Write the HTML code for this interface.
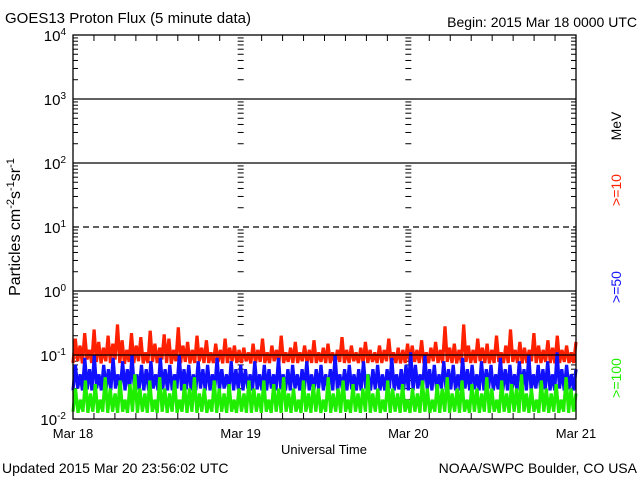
<!DOCTYPE html>
<html><head><meta charset="utf-8"><style>
html,body{margin:0;padding:0;background:#fff;}
svg text{font-family:"Liberation Sans",sans-serif;}
</style></head><body>
<svg id="chart" width="640" height="480" viewBox="0 0 640 480" xmlns="http://www.w3.org/2000/svg">
<rect width="640" height="480" fill="#fff"/>
<text x="5" y="23" font-size="15">GOES13 Proton Flux (5 minute data)</text>
<text x="637" y="27" font-size="14" text-anchor="end">Begin: 2015 Mar 18 0000 UTC</text>
<text transform="translate(20,227) rotate(-90)" font-size="16" text-anchor="middle">Particles cm<tspan dy="-6" font-size="11">-2</tspan><tspan dy="6">s</tspan><tspan dy="-6" font-size="11">-1</tspan><tspan dy="6">sr</tspan><tspan dy="-6" font-size="11">-1</tspan></text>
<text transform="translate(621,126) rotate(-90)" font-size="14" text-anchor="middle">MeV</text>
<text transform="translate(621,190) rotate(-90)" font-size="14" text-anchor="middle" fill="#ff2000">&gt;=10</text>
<text transform="translate(621,287) rotate(-90)" font-size="14" text-anchor="middle" fill="#1010ff">&gt;=50</text>
<text transform="translate(621,378) rotate(-90)" font-size="14" text-anchor="middle" fill="#20ee00">&gt;=100</text>
<text x="324" y="454" font-size="13" text-anchor="middle">Universal Time</text>
<text x="2" y="473" font-size="14">Updated 2015 Mar 20 23:56:02 UTC</text>
<text x="637" y="473" font-size="14" text-anchor="end">NOAA/SWPC Boulder, CO USA</text>
<g id="under"></g>
<g id="data"></g>
<g id="axes"></g>
</svg>
<script>
const dayLabels = ["Mar 18","Mar 19","Mar 20","Mar 21"];
const yTickExps = [-2,-1,0,1,2,3,4];
const gridSolid = [3,2,0,-1];
const gridDashed = [1];
const ge10 = [.075,.18,.08,.14,.074,.22,.085,.12,.075,.25,.078,.16,.074,.13,.08,.2,.075,.15,.085,.3,.075,.17,.073,.12,.078,.22,.075,.14,.08,.19,.074,.11,.075,.24,.078,.15,.075,.13,.085,.21,.075,.18,.073,.12,.08,.27,.075,.14,.078,.16,.074,.12,.075,.2,.08,.13,.075,.17,.075,.11,.075,.15,.078,.12,.074,.18,.075,.13,.08,.14,.075,.12,
.075,.13,.08,.11,.074,.15,.075,.12,.078,.18,.075,.11,.075,.14,.08,.12,.074,.2,.075,.11,.078,.13,.075,.16,.075,.11,.08,.14,.074,.12,.075,.17,.075,.11,.078,.13,.075,.15,.075,.11,.073,.12,.078,.19,.075,.12,.075,.14,.08,.11,.075,.13,.074,.16,.075,.12,.078,.11,.075,.14,.075,.12,.08,.18,.075,.11,.075,.13,.074,.12,.075,.15,
.075,.14,.078,.12,.075,.17,.074,.11,.075,.13,.08,.16,.075,.12,.075,.28,.078,.13,.075,.15,.074,.12,.075,.3,.078,.14,.075,.12,.075,.18,.08,.13,.075,.15,.074,.12,.075,.2,.078,.11,.075,.14,.075,.25,.078,.12,.075,.16,.074,.13,.075,.12,.08,.22,.075,.14,.075,.12,.078,.17,.075,.13,.074,.2,.075,.12,.078,.14,.075,.11,.075,.16];
const ge50 = [.028,.07,.03,.05,.028,.09,.029,.06,.028,.1,.03,.05,.028,.07,.029,.06,.028,.09,.03,.05,.028,.08,.028,.06,.03,.1,.028,.05,.029,.07,.028,.06,.028,.08,.03,.05,.028,.09,.029,.06,.028,.07,.028,.05,.03,.1,.028,.06,.029,.07,.028,.05,.028,.08,.03,.06,.028,.07,.028,.05,.029,.09,.028,.06,.03,.05,.028,.08,.028,.06,.029,.07,
.028,.06,.03,.05,.028,.08,.029,.05,.028,.07,.028,.06,.03,.05,.028,.09,.029,.05,.028,.06,.028,.07,.03,.05,.028,.06,.029,.08,.028,.05,.028,.06,.03,.07,.028,.05,.029,.06,.028,.1,.028,.05,.03,.06,.028,.07,.029,.05,.028,.06,.028,.08,.03,.05,.028,.06,.029,.07,.028,.05,.028,.06,.03,.09,.028,.05,.029,.06,.028,.07,.028,.11,
.028,.07,.03,.05,.028,.1,.029,.06,.028,.07,.028,.05,.03,.08,.028,.06,.029,.07,.028,.05,.028,.09,.03,.06,.028,.07,.029,.05,.028,.08,.028,.06,.03,.07,.028,.05,.029,.09,.028,.06,.028,.07,.03,.05,.028,.08,.029,.06,.028,.1,.028,.05,.03,.07,.028,.06,.029,.08,.028,.05,.028,.11,.03,.06,.028,.07,.029,.05,.028,.06];
const ge100 = [.013,.03,.0125,.02,.013,.04,.0125,.025,.013,.035,.0125,.02,.013,.045,.0125,.03,.013,.025,.0125,.04,.013,.02,.0125,.035,.013,.05,.0125,.03,.013,.025,.0125,.04,.013,.02,.0125,.045,.013,.03,.0125,.025,.013,.04,.0125,.02,.013,.035,.0125,.03,.013,.045,.0125,.025,.013,.03,.0125,.02,.013,.04,.0125,.03,.013,.025,.0125,.035,.013,.02,.0125,.03,.013,.025,.0125,.04,
.0125,.03,.013,.025,.0125,.04,.013,.02,.0125,.035,.013,.03,.0125,.045,.013,.025,.0125,.03,.013,.02,.0125,.04,.013,.025,.0125,.035,.013,.03,.0125,.02,.013,.045,.0125,.025,.013,.03,.0125,.04,.013,.02,.0125,.035,.013,.025,.0125,.03,.013,.05,.0125,.025,.013,.03,.0125,.02,.013,.04,.0125,.03,.013,.025,.0125,.035,.013,.02,.0125,.03,
.013,.025,.0125,.04,.013,.03,.0125,.02,.013,.035,.0125,.03,.013,.045,.0125,.025,.013,.03,.0125,.04,.013,.02,.0125,.035,.013,.03,.0125,.025,.013,.045,.0125,.03,.013,.02,.0125,.04,.013,.025,.0125,.035,.013,.03,.0125,.05,.013,.025,.0125,.03,.013,.02,.0125,.04,.013,.03,.0125,.025,.013,.035,.0125,.02,.013,.045,.0125,.03,.013,.025];

const NS="http://www.w3.org/2000/svg";
const X0=73, X1=576, Y0=35, Y1=419, LMIN=-2, LMAX=4;
function xScale(frac){return X0+frac*(X1-X0);}
function yScale(v){return Y1-(Math.log10(v)-LMIN)/(LMAX-LMIN)*(Y1-Y0);}
function yExp(e){return Y1-(e-LMIN)/(LMAX-LMIN)*(Y1-Y0);}
function mk(tag,attrs,parent){const e=document.createElementNS(NS,tag);for(const k in attrs)e.setAttribute(k,attrs[k]);parent.appendChild(e);return e;}
const under=document.getElementById('under'), data=document.getElementById('data'), axes=document.getElementById('axes');

function drawSeries(arr,color,name){
  const pts=arr.map((v,i)=>xScale(i/(arr.length-1)).toFixed(1)+","+yScale(v).toFixed(1)).join(" ");
  const p=mk('polyline',{points:pts,fill:'none',stroke:color,'stroke-width':3.2,'stroke-linejoin':'miter'},data);
  
  
}
drawSeries(ge10,'#ff2000','series-ge10');
drawSeries(ge50,'#1010ff','series-ge50');
drawSeries(ge100,'#20ee00','series-ge100');

gridSolid.forEach(e=>{
  const l=mk('line',{x1:X0,x2:X1,y1:yExp(e),y2:yExp(e),stroke:'#000','stroke-width':1.3},axes);
  
  
});
gridDashed.forEach(e=>{
  const l=mk('line',{x1:X0,x2:X1,y1:yExp(e),y2:yExp(e),stroke:'#000','stroke-width':1.3,'stroke-dasharray':'6,4'},axes);
  
  
});
const fr=mk('rect',{x:X0,y:Y0,width:X1-X0,height:Y1-Y0,fill:'none',stroke:'#000','stroke-width':1.3},axes);



const nDays=dayLabels.length-1;
for(let e=LMIN;e<LMAX;e++){
  for(let m=2;m<=9;m++){
    const y=yExp(e+Math.log10(m));
    [[X0,X0+5],[X1-5,X1]].forEach(([a,b])=>mk('line',{x1:a,x2:b,y1:y,y2:y,stroke:'#000'},under));
    for(let d=1;d<nDays;d++){const x=xScale(d/nDays);mk('line',{x1:x-3,x2:x+3,y1:y,y2:y,stroke:'#000'},under);}
  }
}
yTickExps.forEach(e=>{
  const t=mk('text',{x:66,y:yExp(e)+6,'font-size':15,'text-anchor':'end'},axes);
  
  
  t.textContent="10";
  const s=mk('tspan',{dy:-6,'font-size':10},t); s.textContent=e;
});
for(let h=0;h<=nDays*24;h+=3){
  const x=xScale(h/(nDays*24));
  if(h%24!==0){mk('line',{x1:x,x2:x,y1:Y1,y2:Y1-6,stroke:'#000'},axes);mk('line',{x1:x,x2:x,y1:Y0,y2:Y0+6,stroke:'#000'},axes);}
}
dayLabels.forEach((lab,i)=>{
  const t=mk('text',{x:xScale(i/nDays),y:438,'font-size':13,'text-anchor':'middle'},axes);
  
  
  t.textContent=lab;
});
</script>
</body></html>
